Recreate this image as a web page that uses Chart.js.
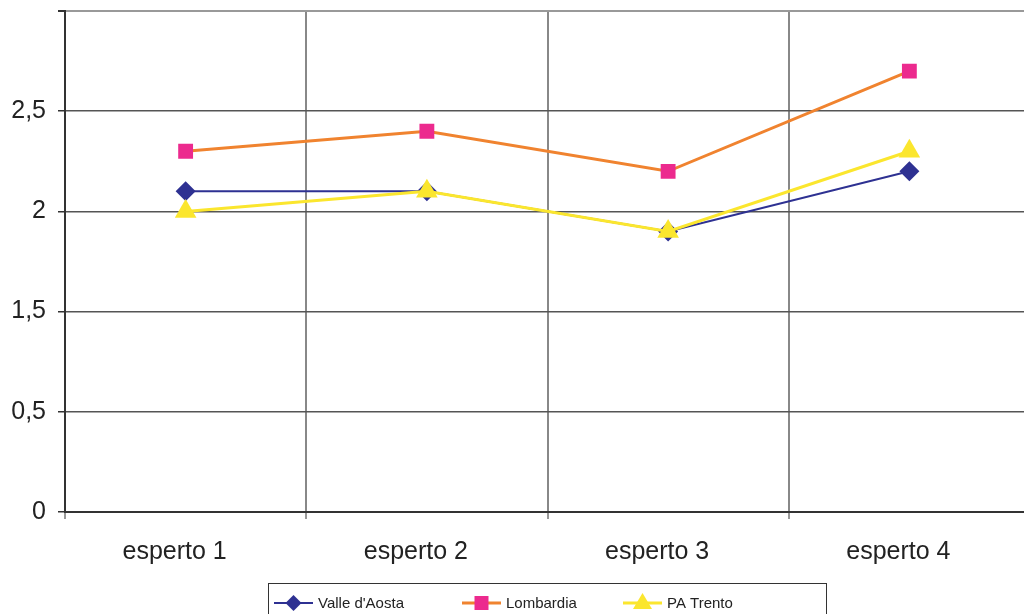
<!DOCTYPE html>
<html>
<head>
<meta charset="utf-8">
<script src="https://cdn.jsdelivr.net/npm/chart.js@4/dist/chart.umd.min.js"></script>
<style>
  html, body { margin: 0; padding: 0; background: #fff; overflow: hidden; }
  #wrap { position: absolute; left: 0; top: 0; width: 1030px; height: 614px; }
</style>
</head>
<body>
<div id="wrap"><canvas id="myChart" width="1030" height="614"></canvas></div>
<script>
const categories = ['esperto 1', 'esperto 2', 'esperto 3', 'esperto 4'];
const valleDAosta = [2.1, 2.1, 1.9, 2.2];
const lombardia = [2.3, 2.4, 2.2, 2.7];
const paTrento = [2.0, 2.1, 1.9, 2.3];
// the gridlines are evenly spaced but the labels skip "1"
const yTickLabels = ['0', '0,5', '1,5', '2', '2,5', ''];

const FONT = 'Liberation Sans, Arial, sans-serif';
const ctx = document.getElementById('myChart').getContext('2d');

function shape(c, style, x, y, r) {
  c.beginPath();
  if (style === 'rectRot') {
    c.moveTo(x, y - r); c.lineTo(x + r, y); c.lineTo(x, y + r); c.lineTo(x - r, y);
  } else if (style === 'rect') {
    c.rect(x - r, y - r, 2 * r, 2 * r);
  } else {
    c.moveTo(x, y - r); c.lineTo(x + r * 0.95, y + r * 0.6); c.lineTo(x - r * 0.95, y + r * 0.6);
  }
  c.closePath();
  c.fill();
}

const boxLegend = {
  id: 'boxLegend',
  afterDraw(chart) {
    const c = chart.ctx;
    c.save();
    c.strokeStyle = '#333';
    c.lineWidth = 1;
    c.strokeRect(268.5, 583.5, 558, 40);
    const xs = [274, 462, 623];
    const sizes = [8, 7, 10];
    const y = 603;
    chart.data.datasets.forEach((ds, i) => {
      const x = xs[i];
      c.strokeStyle = ds.borderColor;
      c.lineWidth = ds.borderWidth;
      c.beginPath();
      c.moveTo(x, y); c.lineTo(x + 39, y);
      c.stroke();
      c.fillStyle = ds.pointBackgroundColor;
      shape(c, ds.pointStyle, x + 19.5, y, sizes[i]);
      c.fillStyle = '#222';
      c.font = '15px ' + FONT;
      c.textBaseline = 'middle';
      c.fillText(ds.label, x + 44, y + 1);
    });
    c.restore();
  }
};

new Chart(ctx, {
  type: 'line',
  data: {
    labels: categories,
    datasets: [
      {
        label: "Valle d'Aosta",
        data: valleDAosta,
        borderColor: '#2E3192',
        backgroundColor: '#2E3192',
        pointBackgroundColor: '#2E3192',
        pointBorderColor: '#2E3192',
        borderWidth: 2,
        pointStyle: 'rectRot',
        pointRadius: 10,
        pointBorderWidth: 0,
        order: 3,
        fill: false,
      },
      {
        label: 'Lombardia',
        data: lombardia,
        borderColor: '#F0832F',
        backgroundColor: '#EC2A8E',
        pointBackgroundColor: '#EC2A8E',
        pointBorderColor: '#EC2A8E',
        borderWidth: 3,
        pointStyle: 'rect',
        pointRadius: 10.5,
        pointBorderWidth: 0,
        order: 2,
        fill: false,
      },
      {
        label: 'PA Trento',
        data: paTrento,
        borderColor: '#FBE62E',
        backgroundColor: '#FBE62E',
        pointBackgroundColor: '#FBE62E',
        pointBorderColor: '#FBE62E',
        borderWidth: 3,
        pointStyle: 'triangle',
        pointRadius: 12.5,
        pointBorderWidth: 0,
        order: 1,
        fill: false,
      },
    ],
  },
  options: {
    responsive: false,
    animation: false,
    layout: { autoPadding: false, padding: { top: 11, left: 0, right: 0, bottom: 0 } },
    plugins: {
      legend: { display: false },
      tooltip: { enabled: false },
    },
    scales: {
      x: {
        offset: true,
        grid: {
          offset: true,
          color: '#888',
          lineWidth: 2,
          tickLength: 7,
          tickColor: '#333',
          tickWidth: 1,
        },
        border: { color: '#333', width: 2 },
        ticks: { color: '#222', font: { family: FONT, size: 25 }, padding: 18, labelOffset: -11 },
        afterFit: s => { s.height = 102; s.paddingLeft = 0; s.paddingRight = 0; },
      },
      y: {
        min: 0.5,
        max: 3,
        ticks: {
          stepSize: 0.5,
          color: '#222',
          font: { family: FONT, size: 25 },
          padding: 12,
          callback: (value, index) => yTickLabels[index],
        },
        grid: {
          color: ctx => ctx.index === 5 ? '#999' : '#555',
          lineWidth: ctx => ctx.index === 5 ? 2 : 1.5,
          tickLength: 7,
          tickColor: '#333',
        },
        border: { color: '#333', width: 2 },
        afterFit: s => { s.width = 65; s.paddingTop = 0; s.paddingBottom = 0; },
      },
    },
  },
  plugins: [boxLegend],
});
</script>
</body>
</html>
